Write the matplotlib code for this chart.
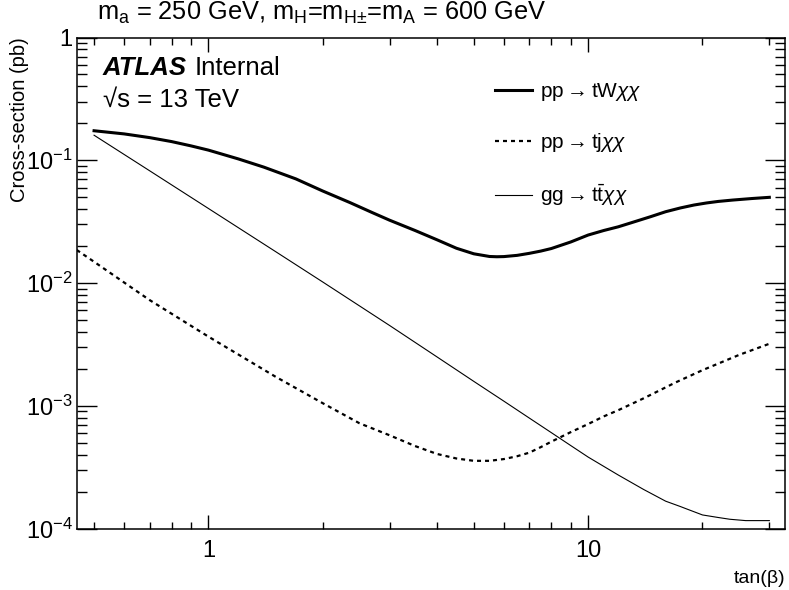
import matplotlib
matplotlib.use("Agg")
import matplotlib.pyplot as plt
from matplotlib.ticker import LogLocator, NullFormatter, FixedLocator, FixedFormatter

plt.rcParams['font.family'] = ['Liberation Sans', 'DejaVu Sans']
plt.rcParams['mathtext.fontset'] = 'custom'
plt.rcParams['mathtext.rm'] = 'Liberation Sans'
plt.rcParams['mathtext.it'] = 'Liberation Sans:italic'
plt.rcParams['mathtext.bf'] = 'Liberation Sans:bold'

# pp -> tW chi chi
tw_x = [0.5, 0.6, 0.7, 0.8, 0.9, 1, 1.2, 1.4, 1.7, 2, 2.36, 2.7, 3, 3.5, 4, 4.5, 5, 5.5, 5.75, 6,
        6.5, 7, 7.5, 8, 9, 10, 11, 12, 13, 14.6, 16, 17.5, 19, 20.5, 22, 24, 27, 30]
tw_y = [0.174, 0.164, 0.153, 0.142, 0.131, 0.121, 0.1025, 0.0879, 0.0705, 0.0562, 0.0452, 0.0375,
        0.0325, 0.0268, 0.0225, 0.0192, 0.0173, 0.01645, 0.01637, 0.01642, 0.0168, 0.01745, 0.0182,
        0.0191, 0.0216, 0.0246, 0.0268, 0.0287, 0.031, 0.0347, 0.0381, 0.0409, 0.0432, 0.0449,
        0.0462, 0.0474, 0.0488, 0.0499]

# pp -> tj chi chi
tj_x = [0.45, 0.5, 0.7, 1, 1.5, 2, 2.5, 3, 3.5, 4, 4.5, 5, 5.5, 6, 6.5, 7, 7.5, 8, 9, 10, 11, 12,
        14, 17, 20, 25, 30]
tj_y = [0.0186, 0.0149, 0.00727, 0.00366, 0.00173, 0.00105, 7.2e-4, 5.75e-4, 4.7e-4, 4.05e-4,
        3.72e-4, 3.56e-4, 3.56e-4, 3.68e-4, 3.88e-4, 4.15e-4, 4.6e-4, 5.1e-4, 6.1e-4, 7.1e-4,
        8.2e-4, 9.2e-4, 1.15e-3, 1.55e-3, 1.95e-3, 2.6e-3, 3.2e-3]

# gg -> tt chi chi
tt_x = [0.5, 0.7, 1, 1.5, 2, 3, 4, 5, 6, 7, 8, 9, 10, 12, 14, 16, 17.5, 18, 20, 22, 23.6, 26, 30]
tt_y = [0.160, 0.0822, 0.0405, 0.0181, 0.0102, 4.51e-3, 2.50e-3, 1.58e-3, 1.09e-3, 7.94e-4,
        6.04e-4, 4.74e-4, 3.82e-4, 2.73e-4, 2.08e-4, 1.67e-4, 1.51e-4, 1.46e-4, 1.29e-4, 1.23e-4,
        1.19e-4, 1.16e-4, 1.16e-4]

fig = plt.figure(figsize=(7.89, 5.90), dpi=100)
ax = fig.add_axes([0.0972, 0.1042, 0.8978, 0.8322])

ax.plot(tw_x, tw_y, color='black', lw=2.2, label=r'pp$\rightarrow$tW$\chi\chi$')
ax.plot(tj_x, tj_y, color='black', lw=1.6, linestyle=(0, (1.8, 1.8)),
        label=r'pp$\rightarrow$tj$\chi\chi$')
ax.plot(tt_x, tt_y, color='black', lw=0.8, label=r'gg$\rightarrow$t$\bar{\mathrm{t}}\chi\chi$')

ax.set_xscale('log')
ax.set_yscale('log')
ax.set_xlim(0.45, 33)
ax.set_ylim(1e-4, 1)

ax.yaxis.set_major_locator(FixedLocator([1e-4, 1e-3, 1e-2, 1e-1, 1]))
ax.yaxis.set_major_formatter(FixedFormatter([r'10$^{-4}$', r'10$^{-3}$', r'10$^{-2}$', r'10$^{-1}$', '1']))
ax.yaxis.set_minor_locator(LogLocator(base=10, subs=range(2, 10)))
ax.yaxis.set_minor_formatter(NullFormatter())
ax.xaxis.set_major_locator(FixedLocator([1, 10]))
ax.xaxis.set_major_formatter(FixedFormatter(['1', '10']))
ax.xaxis.set_minor_locator(LogLocator(base=10, subs=range(2, 10)))
ax.xaxis.set_minor_formatter(NullFormatter())

ax.tick_params(which='both', direction='in', top=True, right=True, width=1.0, labelsize=17)
ax.tick_params(axis='y', which='major', length=14.4, pad=3)
ax.tick_params(axis='y', which='minor', length=7.2)
ax.tick_params(axis='x', which='major', length=10.3, pad=8)
ax.tick_params(axis='x', which='minor', length=5)
for s in ax.spines.values():
    s.set_linewidth(1.1)

ax.set_ylabel('Cross-section (pb)', fontsize=14.5, loc='top')
ax.yaxis.set_label_coords(-0.068, 1.0)
ax.set_xlabel('tan(β)', fontsize=14, loc='right')
ax.xaxis.set_label_coords(1.0, -0.085)

fig.text(0.123, 0.966, r'm$_{\mathrm{a}}$ = 250 GeV, m$_{\mathrm{H}}$=m$_{\mathrm{H}{\pm}}$=m$_{\mathrm{A}}$ = 600 GeV',
         fontsize=18.3, ha='left', va='baseline')
ax.text(0.037, 0.9236, 'ATLAS', fontsize=18.5, fontweight='bold', fontstyle='italic',
        transform=ax.transAxes, ha='left', va='baseline')
ax.text(0.167, 0.9236, 'Internal', fontsize=18.5, transform=ax.transAxes, ha='left', va='baseline')
ax.text(0.037, 0.8585, '√s = 13 TeV', fontsize=18.5, transform=ax.transAxes,
        ha='left', va='baseline')

ax.legend(loc='upper left', bbox_to_anchor=(495 / 789, 1 - 81 / 590), bbox_transform=fig.transFigure,
          frameon=False, fontsize=15, borderpad=0, borderaxespad=0,
          handlelength=1.78, handletextpad=0.4, labelspacing=1.35)

fig.savefig('out.png', dpi=100)
